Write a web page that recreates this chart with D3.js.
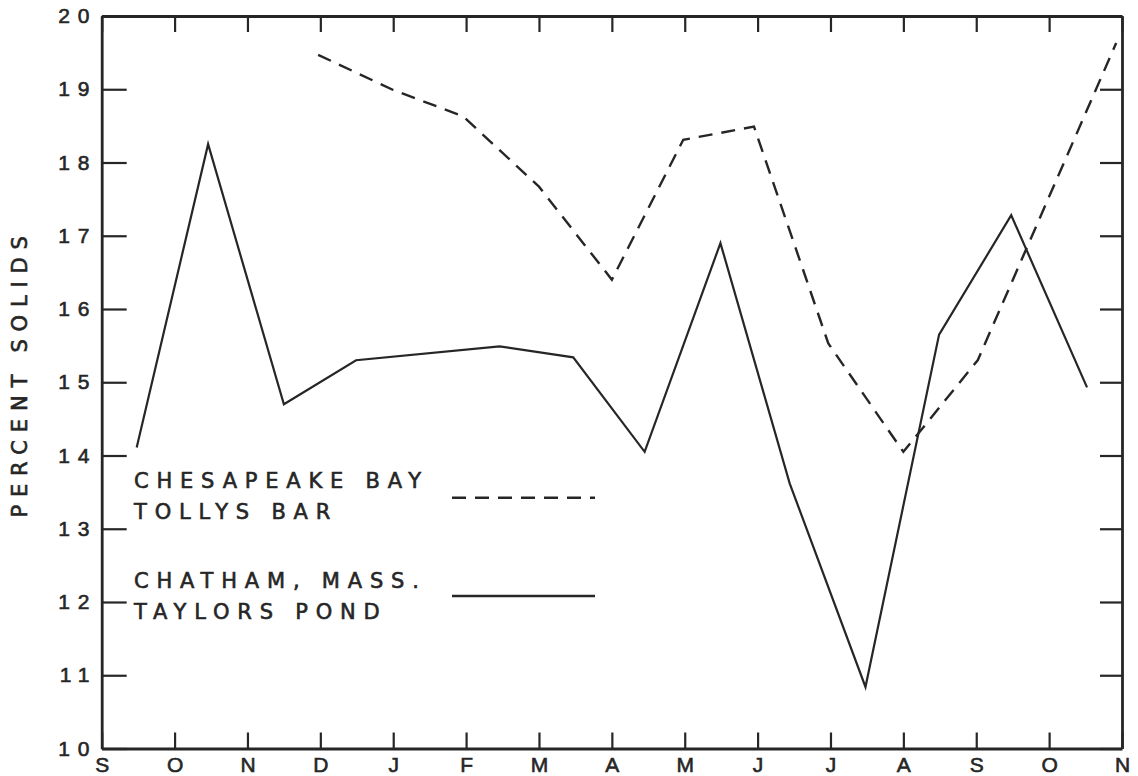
<!DOCTYPE html>
<html>
<head>
<meta charset="utf-8">
<script src="https://cdn.jsdelivr.net/npm/d3@7"></script>
<style>
  body { margin: 0; background: #fff; }
  svg { display: block; font-family: "DejaVu Sans", sans-serif; }
  text { stroke: #262626; stroke-width: 0.6px; }
</style>
</head>
<body>
<svg id="chart" width="1138" height="776"></svg>
<script>
// month axis, Sept to Nov of the following year
const months = ['S', 'O', 'N', 'D', 'J', 'F', 'M', 'A', 'M', 'J', 'J', 'A', 'S', 'O', 'N'];
const yTicks = [10, 11, 12, 13, 14, 15, 16, 17, 18, 19, 20];

// Chatham, Mass. - Taylors Pond (solid), x in months from first S
const chathamMonth = [0.48, 1.46, 2.5, 3.49, 5.46, 6.47, 7.45, 8.49, 9.44, 10.48, 11.49, 12.48, 13.52];
const chathamSolids = [14.11, 18.25, 14.7, 15.3, 15.49, 15.34, 14.05, 16.9, 13.62, 10.84, 15.65, 17.28, 14.93];

// Chesapeake Bay - Tollys Bar (dashed)
const chesapeakeMonth = [2.97, 4, 4.96, 6, 7, 7.98, 8.95, 9.97, 11, 12.02, 13.92];
const chesapeakeSolids = [19.47, 18.99, 18.63, 17.67, 16.4, 18.31, 18.49, 15.53, 14.05, 15.3, 19.63];

const width = 1138, height = 776;
const margin = { top: 16, right: 16, bottom: 27.5, left: 101.7 };
const ink = '#262626';
const spacing = '7.8px';

const svg = d3.select('#chart');

const x = d3.scaleLinear()
  .domain([0, months.length - 1])
  .range([margin.left, width - margin.right]);
const y = d3.scaleLinear()
  .domain([10, 20])
  .range([height - margin.bottom, margin.top]);

function styleAxis(g) {
  g.select('.domain').attr('stroke', ink).attr('stroke-width', 2.8);
  g.selectAll('.tick line').attr('stroke', ink).attr('stroke-width', 2.2);
  g.selectAll('.tick text')
    .attr('fill', ink)
    .style('font-size', '21px')
    .style('letter-spacing', spacing);
}

// bottom axis with month letters, ticks pointing inward
svg.append('g')
  .attr('transform', `translate(0,${y(10)})`)
  .call(d3.axisBottom(x)
    .tickValues(d3.range(months.length))
    .tickFormat(i => months[i])
    .tickSizeInner(-16).tickSizeOuter(0).tickPadding(9))
  .call(styleAxis)
  .call(g => g.selectAll('.tick text').style('letter-spacing', null));

// top axis, ticks only
svg.append('g')
  .attr('transform', `translate(0,${y(20)})`)
  .call(d3.axisTop(x)
    .tickValues(d3.range(months.length))
    .tickFormat('')
    .tickSizeInner(-16).tickSizeOuter(0))
  .call(styleAxis);

// left axis
svg.append('g')
  .attr('transform', `translate(${x(0)},0)`)
  .call(d3.axisLeft(y)
    .tickValues(yTicks)
    .tickSizeInner(-25).tickSizeOuter(0).tickPadding(4.5))
  .call(styleAxis);

// right axis, ticks only
svg.append('g')
  .attr('transform', `translate(${x(months.length - 1)},0)`)
  .call(d3.axisRight(y)
    .tickValues(yTicks)
    .tickFormat('')
    .tickSizeInner(-22).tickSizeOuter(0))
  .call(styleAxis);

// y title
svg.append('text')
  .attr('transform', `translate(27,373) rotate(-90)`)
  .attr('text-anchor', 'middle')
  .attr('fill', ink)
  .style('font-size', '21px')
  .style('letter-spacing', spacing)
  .text('PERCENT SOLIDS');

const line = d3.line()
  .x(d => x(d[0]))
  .y(d => y(d[1]));

svg.append('path')
  .datum(d3.zip(chesapeakeMonth, chesapeakeSolids))
  .attr('d', line)
  .attr('fill', 'none')
  .attr('stroke', ink)
  .attr('stroke-width', 2.4)
  .attr('stroke-dasharray', '14 9');

svg.append('path')
  .datum(d3.zip(chathamMonth, chathamSolids))
  .attr('d', line)
  .attr('fill', 'none')
  .attr('stroke', ink)
  .attr('stroke-width', 2.2);

// Legend
const legend = [
  { lines: ['CHESAPEAKE BAY', 'TOLLYS BAR'], top: 488, lineY: 497.7, dash: '14 9' },
  { lines: ['CHATHAM, MASS.', 'TAYLORS POND'], top: 588, lineY: 596, dash: null }
];

legend.forEach(item => {
  item.lines.forEach((t, i) => {
    svg.append('text')
      .attr('x', 134)
      .attr('y', item.top + i * 31)
      .attr('fill', ink)
      .style('font-size', '21px')
      .style('letter-spacing', spacing)
      .text(t);
  });
  svg.append('line')
    .attr('x1', 452).attr('x2', 595)
    .attr('y1', item.lineY).attr('y2', item.lineY)
    .attr('stroke', ink)
    .attr('stroke-width', 2.4)
    .attr('stroke-dasharray', item.dash);
});
</script>
</body>
</html>
